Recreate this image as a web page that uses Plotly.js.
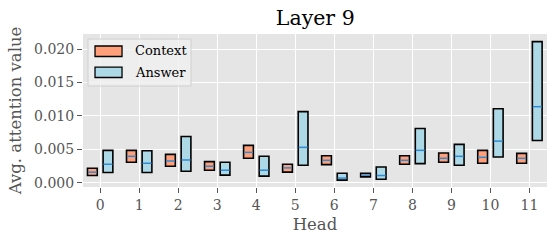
<!DOCTYPE html>
<html>
<head>
<meta charset="utf-8">
<script src="https://cdn.plot.ly/plotly-3.0.1.min.js"></script>
<style>html,body{margin:0;padding:0;background:#fff;}#chart{width:557px;height:243px;}</style>
</head>
<body>
<div id="chart"></div>
<script>
const heads = [0,1,2,3,4,5,6,7,8,9,10,11];
const tickLabels = ["0","1","2","3","4","5","6","7","8","9","10","11"];
const seriesNames = ["Context","Answer"];
// Context: q1, median, q3
const ctxQ1  = [0.00108,0.00307,0.00248,0.00188,0.00366,0.00159,0.00272,0.00089,0.00277,0.00307,0.00292,0.00292];
const ctxMed = [0.00159,0.00396,0.00326,0.00247,0.00455,0.00223,0.00336,0.00114,0.00336,0.00366,0.00381,0.00366];
const ctxQ3  = [0.00218,0.00485,0.00425,0.00317,0.00560,0.00277,0.00405,0.00143,0.00405,0.00445,0.00485,0.00440];
// Answer: q1, median, q3
const ansQ1  = [0.00153,0.00153,0.00173,0.00114,0.00099,0.00262,0.00040,0.00054,0.00287,0.00262,0.00386,0.00633];
const ansMed = [0.00277,0.00292,0.00341,0.00188,0.00188,0.00530,0.00070,0.00109,0.00485,0.00396,0.00623,0.01138];
const ansQ3  = [0.00485,0.00480,0.00693,0.00307,0.00396,0.01064,0.00143,0.00237,0.00811,0.00574,0.01108,0.02111];

const colors = ['#FFA07A','#ADD8E6'];
const off = 0.2, w = 0.25;
const serif = "DejaVu Serif, serif";

function boxTrace(name, q1, q3, sign, color){
  return {
    type:'bar', name:name, showlegend:false,
    x: heads.map(h=>h+sign*off),
    base: q1,
    y: q3.map((v,i)=>v-q1[i]),
    width: w,
    marker:{color:color, line:{color:'#000', width:1.6}},
    hoverinfo:'skip'
  };
}
function medTrace(med, sign){
  const xs=[], ys=[];
  heads.forEach((h,i)=>{ xs.push(h+sign*off-w/2+0.01, h+sign*off+w/2-0.01, null); ys.push(med[i], med[i], null); });
  return {type:'scatter', mode:'lines', x:xs, y:ys, showlegend:false,
    line:{color:'#2f8bd4', width:1.5}, hoverinfo:'skip'};
}

const data = [
  boxTrace(seriesNames[0], ctxQ1, ctxQ3, -1, colors[0]),
  boxTrace(seriesNames[1], ansQ1, ansQ3, 1, colors[1]),
  medTrace(ctxMed, -1),
  medTrace(ansMed, 1)
];

// custom legend (matplotlib-style patches)
const shapes = [
  {type:'rect', xref:'paper', yref:'paper', x0:0.0108, x1:0.2328, y0:0.660, y1:0.967,
   fillcolor:'rgba(240,240,240,0.8)', line:{color:'#d0d0d0', width:1}},
  {type:'rect', xref:'paper', yref:'paper', x0:0.0259, x1:0.0841, y0:0.853, y1:0.9216,
   fillcolor:colors[0], line:{color:'#000', width:1.3}},
  {type:'rect', xref:'paper', yref:'paper', x0:0.0259, x1:0.0841, y0:0.7157, y1:0.784,
   fillcolor:colors[1], line:{color:'#000', width:1.3}}
];
const annotations = [
  {xref:'paper', yref:'paper', x:0.108, y:0.889, xanchor:'left', yanchor:'middle', showarrow:false,
   text:seriesNames[0], font:{family:serif, size:13, color:'#000'}},
  {xref:'paper', yref:'paper', x:0.108, y:0.7516, xanchor:'left', yanchor:'middle', showarrow:false,
   text:seriesNames[1], font:{family:serif, size:13, color:'#000'}}
];

const layout = {
  width:557, height:243,
  margin:{l:83, r:10, t:34, b:56},
  paper_bgcolor:'#fff', plot_bgcolor:'#E5E5E5',
  barmode:'overlay',
  showlegend:false,
  font:{family:serif, color:'#555', size:14},
  title:{text:'Layer 9', font:{family:serif, size:20.5, color:'#000'}, x:0.566, xanchor:'center', yref:'container', y:0.925, yanchor:'middle'},
  xaxis:{range:[-0.44,11.45], tickmode:'array', tickvals:heads, ticktext:tickLabels,
    showgrid:true, gridcolor:'#fff', gridwidth:1, zeroline:false,
    ticks:'outside', ticklen:5, tickcolor:'#555', tickwidth:1,
    title:{text:'Head', font:{family:serif, size:16.5, color:'#555'}, standoff:6},
    tickfont:{family:serif, size:14, color:'#555'}},
  yaxis:{range:[-0.00063,0.02225], tickvals:[0,0.005,0.01,0.015,0.02], ticktext:['0.000','0.005','0.010','0.015','0.020'],
    showgrid:true, gridcolor:'#fff', gridwidth:1, zeroline:false,
    ticks:'outside', ticklen:5, tickcolor:'#555', tickwidth:1,
    title:{text:'Avg. attention value', font:{family:serif, size:16.5, color:'#555'}, standoff:8},
    tickfont:{family:serif, size:14, color:'#555'}},
  shapes:shapes,
  annotations:annotations
};
Plotly.newPlot('chart', data, layout, {staticPlot:true, displayModeBar:false});
</script>
</body>
</html>
